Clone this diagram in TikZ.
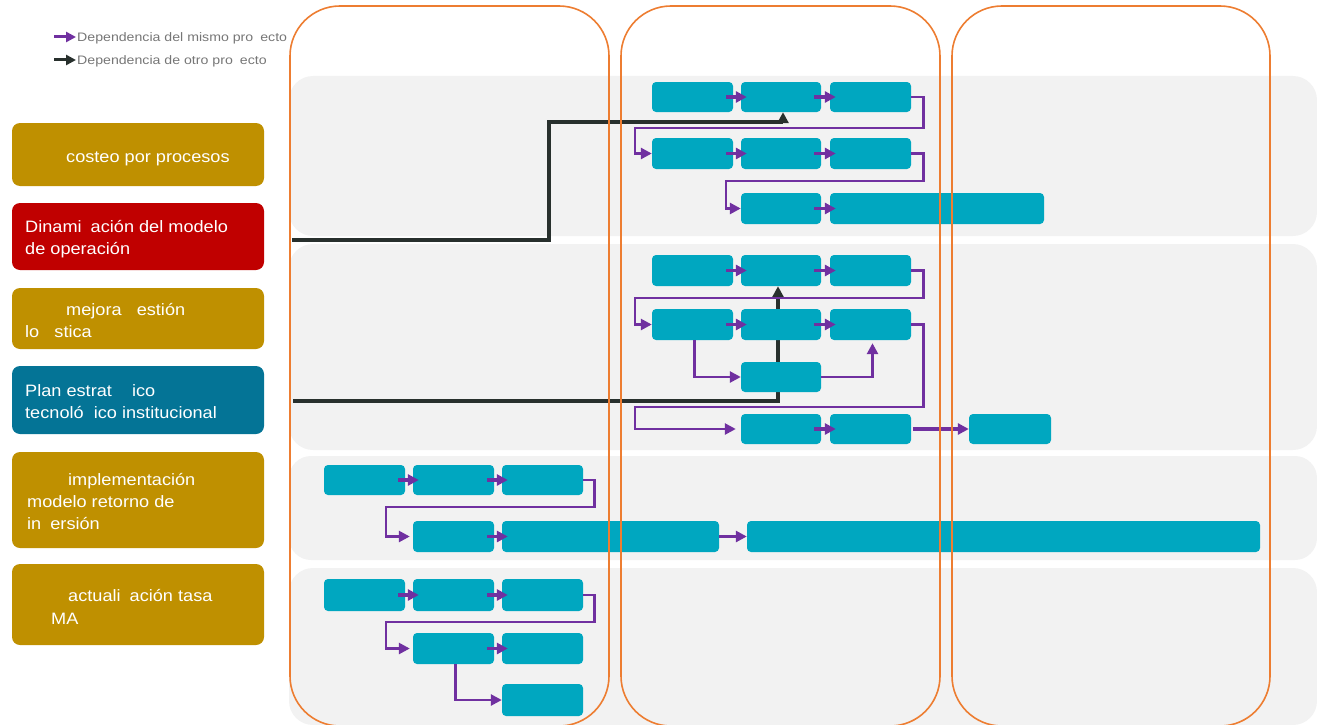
\documentclass[tikz,border=0pt]{standalone}
\usepackage{fontspec}
\setmainfont{Liberation Sans}
\newfontfamily\labfont{Liberation Sans}[FakeStretch=1.1]
\newfontfamily\legfont{Liberation Sans}[FakeStretch=1.15]
\usetikzlibrary{arrows.meta}
\definecolor{teal1}{RGB}{0,167,192}
\definecolor{gold1}{RGB}{191,144,0}
\definecolor{red1}{RGB}{192,0,0}
\definecolor{blue1}{RGB}{4,116,150}
\definecolor{orange1}{RGB}{237,125,49}
\definecolor{band}{RGB}{242,242,242}
\definecolor{purp}{RGB}{112,48,160}
\definecolor{dark}{RGB}{40,48,45}
\definecolor{legtext}{RGB}{118,118,118}
\pgfdeclarelayer{bg}\pgfdeclarelayer{fg}\pgfsetlayers{bg,main,fg}
\newcommand{\tbox}[5]{\node[task, minimum width={#4-#2}, minimum height={#5-#3}] (#1) at ({(#2+#4)/2},{(#3+#5)/2}) {};}
\newcommand{\lbox}[6]{\node[lab, fill=#2, minimum width={#5-#3}, minimum height={#6-#4}] (#1) at ({(#3+#5)/2},{(#4+#6)/2}) {};}
\begin{document}
\begin{tikzpicture}[x=1pt,y=-1pt,
  task/.style={fill=teal1, rounded corners=4, inner sep=0, draw=none},
  lab/.style={rounded corners=8, inner sep=0, draw=none},
  ltxt/.style={anchor=base west, inner sep=0, text=white, font=\labfont\fontsize{16.5}{20}\selectfont},
  legt/.style={anchor=base west, inner sep=0, text=legtext, font=\legfont\fontsize{12.3}{14}\selectfont},
  pconn/.style={draw=purp, line width=2.6, -{Triangle[length=11,width=11]}},
  parr/.style={draw=purp, line width=3.6, -{Triangle[length=11,width=11]}},
  bconn/.style={draw=dark, line width=3.2, -{Triangle[length=11,width=11]}},
  col/.style={draw=orange1, line width=1.6, rounded corners=50}]
\useasboundingbox (0,0) rectangle (1317,725);

% bands
\begin{pgfonlayer}{bg}
\fill[band, rounded corners=24] (289,76) rectangle (1317,236);
\fill[band, rounded corners=24] (289,244) rectangle (1317,450);
\fill[band, rounded corners=22] (289,456) rectangle (1317,560);
\fill[band, rounded corners=24] (289,568) rectangle (1317,725);
\end{pgfonlayer}

% legend
\coordinate (la1) at (54,37); \coordinate (lb1) at (76,37);
\coordinate (la2) at (54,60); \coordinate (lb2) at (76,60);
\draw[draw=purp, line width=3, -{Triangle[length=10,width=10]}] (la1) -- (lb1);
\draw[draw=dark, line width=3, -{Triangle[length=10,width=10]}] (la2) -- (lb2);
\node[legt] (leg1) at (77,41.5) {Dependencia del mismo pro\hphantom{y}ecto};
\node[legt] (leg2) at (77,64.5) {Dependencia de otro pro\hphantom{y}ecto};

% left labels
\lbox{L1}{gold1}{12}{123}{264}{186}
\lbox{L2}{red1}{12}{203}{264}{270}
\lbox{L3}{gold1}{12}{288}{264}{349}
\lbox{L4}{blue1}{12}{366}{264}{434}
\lbox{L5}{gold1}{12}{452}{264}{548}
\lbox{L6}{gold1}{12}{564}{264}{645}
\node[ltxt] (L1a) at (66,162) {costeo por procesos};
\node[ltxt] (L2a) at (25,232) {Dinami\hphantom{z}ación del modelo};
\node[ltxt] (L2b) at (25,254) {de operación};
\node[ltxt] (L3a) at (66,315) {mejora\hphantom{ g}estión};
\node[ltxt] (L3b) at (25,337) {lo\hphantom{gí}stica};
\node[ltxt] (L4a) at (25,396) {Plan estrat\hphantom{ég}ico};
\node[ltxt] (L4b) at (25,418) {tecnoló\hphantom{g}ico institucional};
\node[ltxt] (L5a) at (68,485) {implementación};
\node[ltxt] (L5b) at (27,507) {modelo retorno de};
\node[ltxt] (L5c) at (27,529) {in\hphantom{v}ersión};
\node[ltxt] (L6a) at (68,601) {actuali\hphantom{z}ación tasa};
\node[ltxt] (L6b) at (51,624) {MA};

% task boxes
\tbox{A1}{652}{82}{733}{112}
\tbox{A2}{741}{82}{821}{112}
\tbox{A3}{830}{82}{911}{112}
\tbox{B1}{652}{138}{733}{169}
\tbox{B2}{741}{138}{821}{169}
\tbox{B3}{830}{138}{911}{169}
\tbox{C1}{741}{193}{821}{224}
\tbox{C2}{830}{193}{1044}{224}
\tbox{D1}{652}{255}{733}{286}
\tbox{D2}{741}{255}{821}{286}
\tbox{D3}{830}{255}{911}{286}
\tbox{E1}{652}{309}{733}{340}
\tbox{E2}{741}{309}{821}{340}
\tbox{E3}{830}{309}{911}{340}
\tbox{F1}{741}{362}{821}{392}
\tbox{G1}{741}{414}{821}{444}
\tbox{G2}{830}{414}{911}{444}
\tbox{G3}{969}{414}{1051}{444}
\tbox{H1}{324}{465}{405}{495}
\tbox{H2}{413}{465}{494}{495}
\tbox{H3}{502}{465}{583}{495}
\tbox{I1}{413}{521}{494}{552}
\tbox{I2}{502}{521}{719}{552}
\tbox{I3}{747}{521}{1260}{552}
\tbox{J1}{324}{579}{405}{611}
\tbox{J2}{413}{579}{494}{611}
\tbox{J3}{502}{579}{583}{611}
\tbox{K1}{413}{633}{494}{664}
\tbox{K2}{502}{633}{583}{664}
\tbox{M1}{502}{684}{583}{716}

% dependencies on other projects (behind boxes)
\coordinate (s1) at (292,240);
\coordinate (s2) at (293,401);
\begin{pgfonlayer}{bg}
\draw[bconn] (s1) -| (549,122) -| ([xshift=2]A2.south);
\draw[bconn] (s2) -| ([xshift=-3]D2.south);
\end{pgfonlayer}

% short arrows
\foreach \a/\b in {A1/A2,A2/A3,B1/B2,B2/B3,C1/C2,D1/D2,D2/D3,E1/E2,E2/E3,G1/G2,H1/H2,H2/H3,I1/I2,J1/J2,J2/J3,K1/K2}
  \draw[parr] ([xshift=-7]\a.east) -- ([xshift=6]\b.west);
\draw[parr] ([xshift=2]G2.east) -- (G3.west);
\draw[parr] (I2.east) -- (I3.west);

% elbow connectors
\draw[pconn] (A3.east) -- ++(12,0) |- (635,128) |- (B1.west);
\draw[pconn] (B3.east) -- ++(12,0) |- (726,181) |- (C1.west);
\draw[pconn] (D3.east) -- ++(12,0) |- (635,298) |- (E1.west);
\draw[pconn] (E3.east) -- ++(12,0) |- (635,407) |- ([xshift=-5]G1.west);
\draw[pconn] ([xshift=2]E1.south) |- (F1.west);
\draw[pconn] (F1.east) -| ([xshift=2,yshift=-3]E3.south);
\draw[pconn] (H3.east) -- ++(11,0) |- (386,507) |- ([xshift=-3]I1.west);
\draw[pconn] (J3.east) -- ++(11,0) |- (386,622) |- ([xshift=-3]K1.west);
\draw[pconn] ([xshift=2]K1.south) |- (M1.west);

% columns
\begin{pgfonlayer}{fg}
\draw[col] (290,6) rectangle (609,726);
\draw[col] (621,6) rectangle (940,726);
\draw[col] (952,6) rectangle (1270,726);
\end{pgfonlayer}
\end{tikzpicture}
\end{document}
